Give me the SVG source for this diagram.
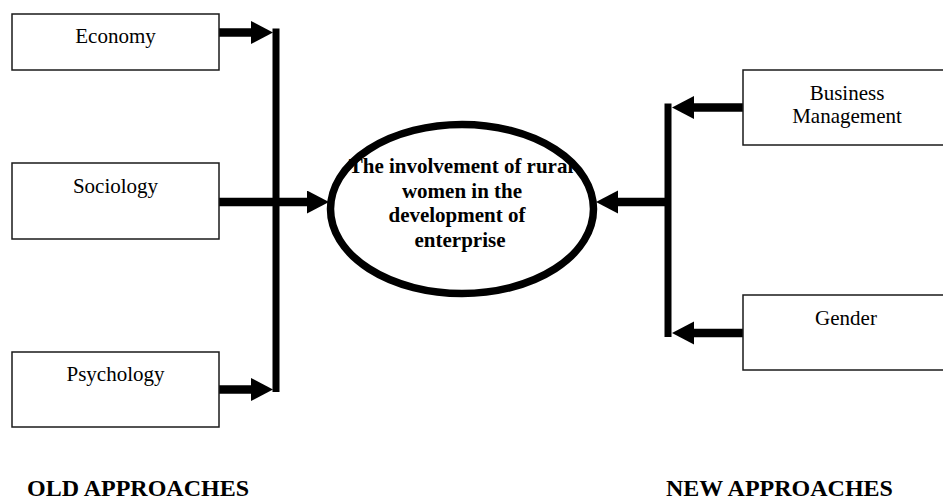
<svg xmlns="http://www.w3.org/2000/svg" width="943" height="500" viewBox="0 0 943 500">
  <style>
    .box { fill: #ffffff; stroke: #1a1a1a; stroke-width: 1.5; }
    .label { font-family: "Liberation Serif", "Times New Roman", serif; font-size: 21px; fill: #000; text-anchor: middle; }
    .core { font-family: "Liberation Serif", "Times New Roman", serif; font-size: 21px; font-weight: bold; fill: #000; text-anchor: middle; }
    .title { font-family: "Liberation Serif", "Times New Roman", serif; font-size: 24px; font-weight: bold; fill: #000; }
    .wire { fill: none; stroke: #000; stroke-width: 8.5; }
    .bar { fill: none; stroke: #000; stroke-width: 7; }
  </style>
  <defs>
    <marker id="head" markerUnits="userSpaceOnUse" markerWidth="23" markerHeight="24" refX="0" refY="11.5" orient="auto">
      <path d="M0,0 L22,11.5 L0,23 z" fill="#000"/>
    </marker>
  </defs>
  <rect width="943" height="500" fill="#ffffff"/>

  <!-- connectors -->
  <g id="connectors">
    <!-- old approaches collector -->
    <line class="bar" x1="276" y1="28.5" x2="276" y2="392"/>
    <line class="wire" x1="219" y1="32.5" x2="251" y2="32.5" marker-end="url(#head)"/>
    <line class="wire" x1="219" y1="202" x2="307" y2="202" marker-end="url(#head)"/>
    <line class="wire" x1="219" y1="389.5" x2="251" y2="389.5" marker-end="url(#head)"/>
    <!-- new approaches collector -->
    <line class="bar" x1="668" y1="103.5" x2="668" y2="337"/>
    <line class="wire" x1="743" y1="107.5" x2="694" y2="107.5" marker-end="url(#head)"/>
    <line class="wire" x1="743" y1="333" x2="694" y2="333" marker-end="url(#head)"/>
    <line class="wire" x1="668" y1="202" x2="618" y2="202" marker-end="url(#head)"/>
  </g>

  <!-- old approaches -->
  <g id="economy">
    <rect class="box" x="12" y="14" width="207" height="56"/>
    <text class="label" x="115.5" y="43">Economy</text>
  </g>
  <g id="sociology">
    <rect class="box" x="12" y="163" width="207" height="76"/>
    <text class="label" x="115.5" y="193">Sociology</text>
  </g>
  <g id="psychology">
    <rect class="box" x="12" y="352" width="207" height="75"/>
    <text class="label" x="115.5" y="381">Psychology</text>
  </g>

  <!-- central topic -->
  <g id="topic">
    <ellipse cx="462" cy="209" rx="131.5" ry="84.5" fill="#ffffff" stroke="#000" stroke-width="7.5"/>
    <text class="core" x="461" y="173">The involvement of rural</text>
    <text class="core" x="462" y="198">women in the</text>
    <text class="core" x="457" y="222">development of</text>
    <text class="core" x="460" y="247">enterprise</text>
  </g>

  <!-- new approaches -->
  <g id="business-management">
    <rect class="box" x="743" y="70" width="208" height="75"/>
    <text class="label" x="847" y="100">Business</text>
    <text class="label" x="847" y="123">Management</text>
  </g>
  <g id="gender">
    <rect class="box" x="743" y="295" width="208" height="75"/>
    <text class="label" x="846" y="325">Gender</text>
  </g>

  <!-- group captions -->
  <g id="captions">
    <text class="title" x="27" y="496">OLD APPROACHES</text>
    <text class="title" x="666" y="496">NEW APPROACHES</text>
  </g>
</svg>
